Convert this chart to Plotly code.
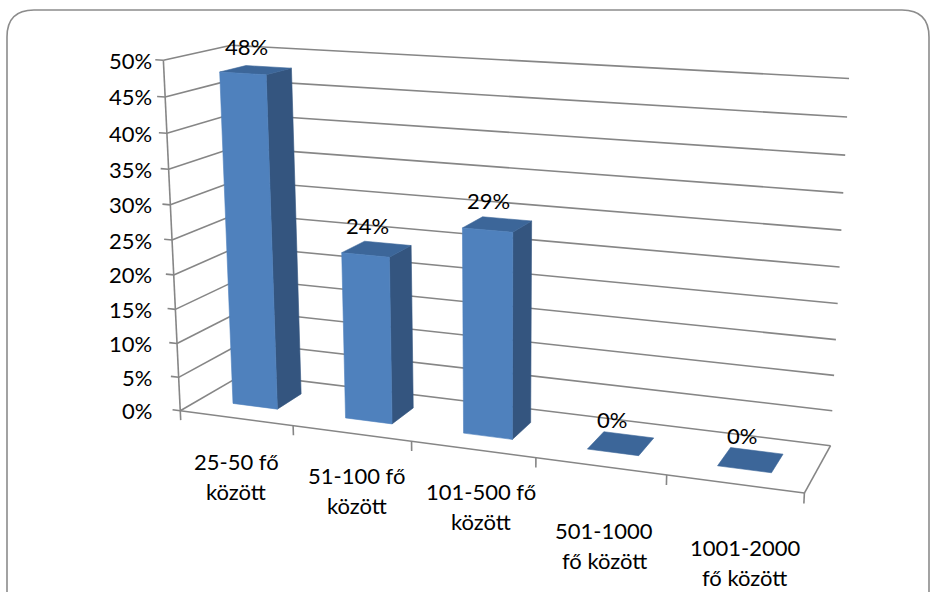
import numpy as np
import plotly.graph_objects as go

# ---------------- data ----------------
category_lines = [
    ["25-50 fő", "között"],
    ["51-100 fő", "között"],
    ["101-500 fő", "között"],
    ["501-1000", "fő között"],
    ["1001-2000", "fő között"],
]
values = [0.48, 0.24, 0.29, 0.0, 0.0]
tick_values = [0.0, 0.05, 0.10, 0.15, 0.20, 0.25, 0.30, 0.35, 0.40, 0.45, 0.50]
tick_labels = ["0%", "5%", "10%", "15%", "20%", "25%", "30%", "35%", "40%", "45%", "50%"]

# ---------------- 3-D frame calibration (layout) ----------------
# world: (category position, depth 0..1, value) -> pixel position of the frame corners/ticks
FRAME_WORLD = [(0, 0, 0.5), (0, 0, 0.25), (0, 0, 0), (1, 0, 0), (2, 0, 0), (4, 0, 0),
               (5, 0, 0), (5, 1, 0), (5, 1, 0.05), (5, 1, 0.45), (5, 1, 0.5),
               (0, 1, 0.5), (0, 1, 0)]
FRAME_PIXELS = [(163, 62), (171.5, 240), (180, 410), (293, 425), (412, 441), (667, 475),
                (805, 493), (830, 445), (832, 412), (847, 117), (849, 78),
                (232, 44), (244, 375)]

W_PX, H_PX = 936, 592
N_CAT = len(values)
BAR_X = (0.3, 0.7)      # bar extent inside a category
BAR_Y = (0.3, 0.7)      # bar extent in depth
FONT = dict(family="Lato, Carlito, Calibri, sans-serif", size=22, color="#000000")
GRID = "#868686"
FRONT_C, SIDE_C, TOP_C = "#4f81bd", "#34557f", "#3c6699"
CAT_LABEL_DROP = [43, 42, 42, 64, 64]   # first-line offset below the front edge
CAT_LABEL_DX = [0, 5, 8, 4, 10]
CAT_LINE_GAP = 30


def fit_camera(world, image):
    W = np.asarray(world, float)
    I = np.asarray(image, float)
    wm, ws = W.mean(0), W.std(0)
    ws[ws == 0] = 1
    im, iscale = I.mean(0), I.std(0).mean()
    Tw = np.eye(4)
    Tw[:3, :3] = np.diag(1 / ws)
    Tw[:3, 3] = -wm / ws
    Ti = np.eye(3)
    Ti[:2, :2] = np.diag([1 / iscale, 1 / iscale])
    Ti[:2, 2] = -im / iscale
    Wn = (Tw @ np.c_[W, np.ones(len(W))].T).T
    In = (Ti @ np.c_[I, np.ones(len(I))].T).T
    rows = []
    for (X, Y, Z, _), (u, v, _) in zip(Wn, In):
        rows.append([X, Y, Z, 1, 0, 0, 0, 0, -u * X, -u * Y, -u * Z, -u])
        rows.append([0, 0, 0, 0, X, Y, Z, 1, -v * X, -v * Y, -v * Z, -v])
    _, _, Vt = np.linalg.svd(np.array(rows))
    Pn = Vt[-1].reshape(3, 4)
    return np.linalg.inv(Ti) @ Pn @ Tw


P = fit_camera(FRAME_WORLD, FRAME_PIXELS)


def proj(X, Y, Z):
    p = P @ np.array([X, Y, Z, 1.0])
    return p[0] / p[2], p[1] / p[2]


def segments(pairs):
    xs, ys = [], []
    for a, b in pairs:
        pa, pb = proj(*a), proj(*b)
        xs += [pa[0], pb[0], None]
        ys += [pa[1], pb[1], None]
    return xs, ys


def polys(list_of_pts):
    xs, ys = [], []
    for pts in list_of_pts:
        for pt in pts:
            q = proj(*pt)
            xs.append(q[0])
            ys.append(q[1])
        q = proj(*pts[0])
        xs += [q[0], None]
        ys += [q[1], None]
    return xs, ys


fig = go.Figure()

# gridlines: side wall and back wall, floor edges, axis and ticks
side = [((0, 0, z), (0, 1, z)) for z in tick_values]
back = [((0, 1, z), (N_CAT, 1, z)) for z in tick_values]
floor = [((0, 0, 0), (N_CAT, 0, 0)), ((N_CAT, 0, 0), (N_CAT, 1, 0))]
axis = [((0, 0, 0), (0, 0, max(tick_values)))]
vticks = [((0, 0, z), (-0.07, 0, z)) for z in tick_values]
cticks = [((k, 0, 0), (k, 0, -0.014)) for k in range(N_CAT + 1)]
xs, ys = segments(side + back + floor + axis + vticks + cticks)
fig.add_trace(go.Scatter(x=xs, y=ys, mode="lines", line=dict(color=GRID, width=1.6),
                         hoverinfo="skip"))

# bars
fronts, sides, tops = [], [], []
for i, v in enumerate(values):
    x0, x1 = i + BAR_X[0], i + BAR_X[1]
    y0, y1 = BAR_Y
    if v > 0:
        fronts.append([(x0, y0, 0), (x1, y0, 0), (x1, y0, v), (x0, y0, v)])
        sides.append([(x1, y0, 0), (x1, y1, 0), (x1, y1, v), (x1, y0, v)])
    tops.append([(x0, y0, v), (x1, y0, v), (x1, y1, v), (x0, y1, v)])

for faces, col in ((sides, SIDE_C), (tops, TOP_C), (fronts, FRONT_C)):
    xs, ys = polys(faces)
    fig.add_trace(go.Scatter(x=xs, y=ys, mode="lines", fill="toself", fillcolor=col,
                             line=dict(color=col, width=0.6), hoverinfo="skip"))

ann = []
# value axis labels
xr = proj(0, 0, max(tick_values))[0] - 9
for z, t in zip(tick_values, tick_labels):
    ann.append(dict(x=xr, y=proj(0, 0, z)[1], text=t, xanchor="right", yanchor="middle",
                    showarrow=False, font=FONT))
# data labels
for i, v in enumerate(values):
    px, py = proj(i + 0.5, 0.5, v)
    ann.append(dict(x=px - 9, y=py - 24, text=f"{round(v * 100)}%", xanchor="center",
                    yanchor="middle", showarrow=False, font=FONT))
# category labels
for i, lines in enumerate(category_lines):
    px, py = proj(i + 0.5, 0, 0)
    for k, line in enumerate(lines):
        ann.append(dict(x=px + CAT_LABEL_DX[i], y=py + CAT_LABEL_DROP[i] + k * CAT_LINE_GAP,
                        text=line, xanchor="center", yanchor="middle", showarrow=False,
                        font=FONT))

# chart frame (rounded border)
r = 27
frame = (f"M 7,{H_PX + 20} L 7,{10 + r} Q 7,10 {7 + r},10 L {929 - r},10 "
         f"Q 929,10 929,{10 + r} L 929,{H_PX + 20}")

fig.update_layout(
    width=W_PX, height=H_PX, margin=dict(l=0, r=0, t=0, b=0),
    paper_bgcolor="white", plot_bgcolor="white", showlegend=False, hovermode=False,
    xaxis=dict(range=[0, W_PX], visible=False, fixedrange=True),
    yaxis=dict(range=[H_PX, 0], visible=False, fixedrange=True),
    annotations=ann,
    shapes=[dict(type="path", path=frame, xref="x", yref="y",
                 line=dict(color="#8c8c8c", width=1.6))],
)

fig.write_html("out.html")
